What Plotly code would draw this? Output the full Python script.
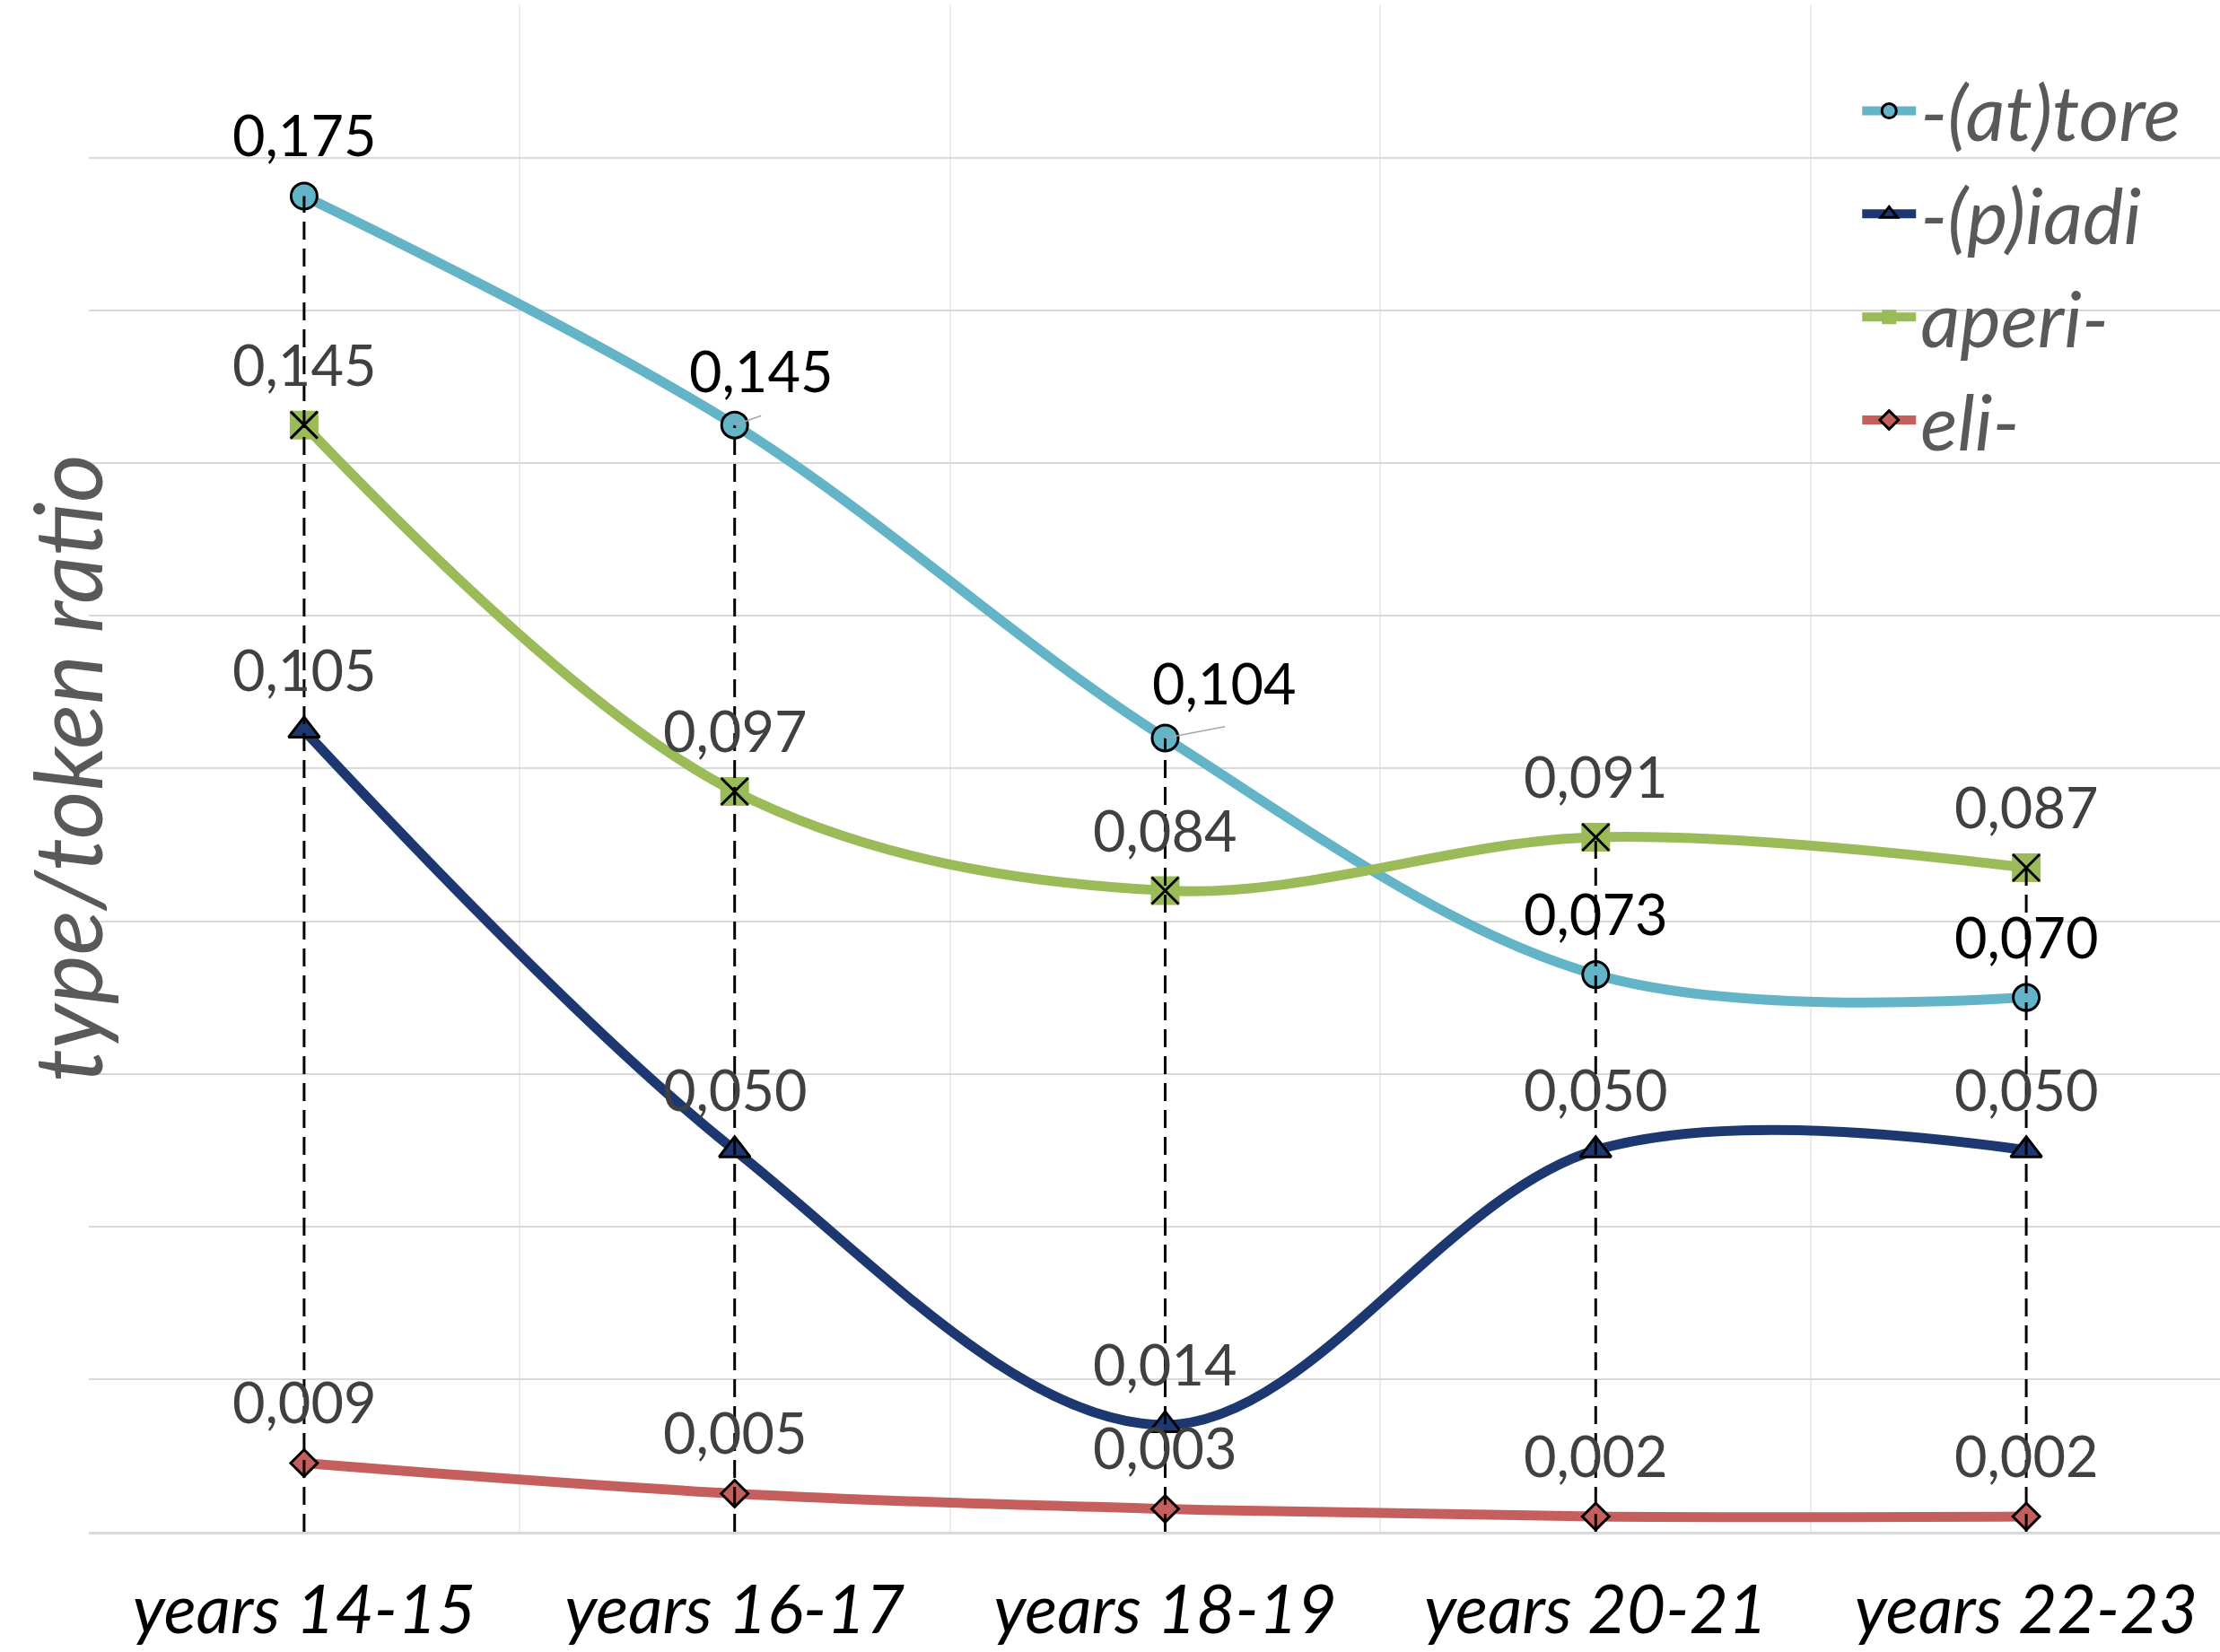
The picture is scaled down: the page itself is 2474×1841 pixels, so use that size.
import plotly.graph_objects as go

# ---------------- data ----------------
categories = ["years 14-15", "years 16-17", "years 18-19", "years 20-21", "years 22-23"]
series_names = ["-(at)tore", "-(p)iadi", "aperi-", "eli-"]
atore = [0.175, 0.145, 0.104, 0.073, 0.070]
piadi = [0.105, 0.050, 0.014, 0.050, 0.050]
aperi = [0.145, 0.097, 0.084, 0.091, 0.087]
eli = [0.009, 0.005, 0.003, 0.002, 0.002]

# ---------------- styles ----------------
colors = ["#64B4C8", "#1D3770", "#9BBB59", "#C55F5E"]
symbols = ["circle", "triangle-up", "square", "diamond"]
msizes = [29, 30, 32, 23]
mlines = [3, 3, 0, 3]
label_colors = ["#000000", "#404040", "#404040", "#404040"]
FONT = "Lato"

all_series = [atore, piadi, aperi, eli]

fig = go.Figure()

for name, vals, col, sym, ms, ml in zip(series_names, all_series, colors, symbols, msizes, mlines):
    fig.add_trace(go.Scatter(
        x=categories, y=vals, name=name, mode="lines+markers",
        line=dict(color=col, width=11, shape="spline", smoothing=1.0),
        marker=dict(symbol=sym, size=ms, color=col,
                    line=dict(color="black", width=ml)),
    ))

# black X drawn over the green square markers of "aperi-"
fig.add_trace(go.Scatter(
    x=categories, y=aperi, mode="markers", showlegend=False, hoverinfo="skip",
    marker=dict(symbol="x-thin", size=30, color="black",
                line=dict(color="black", width=3)),
))

# dashed drop lines from the axis up to the highest point of each category
drop_x, drop_y = [], []
for i, c in enumerate(categories):
    top = max(s[i] for s in all_series)
    drop_x += [c, c, None]
    drop_y += [0, top, None]
fig.add_trace(go.Scatter(
    x=drop_x, y=drop_y, mode="lines", showlegend=False, hoverinfo="skip",
    line=dict(color="black", width=3, dash="20px,10px"),
))

# data labels
special_shift = {(0, 1): (29, 0), (0, 2): (66, 0)}
leaders = {(0, 1): (31, -11), (0, 2): (68, -13)}
for si, vals in enumerate(all_series):
    for i, v in enumerate(vals):
        dx, dy = special_shift.get((si, i), (0, 0))
        ys = 22 if (si, i) in special_shift else 29
        fig.add_annotation(
            x=categories[i], y=v, xref="x", yref="y",
            text=f"{v:.3f}".replace(".", ","), showarrow=False,
            xanchor="center", yanchor="bottom", xshift=dx, yshift=ys + dy,
            font=dict(family=FONT, size=63, color=label_colors[si]),
        )
        if (si, i) in leaders:
            ax, ay = leaders[(si, i)]
            fig.add_annotation(
                x=categories[i], y=v, xref="x", yref="y", text="",
                showarrow=True, arrowhead=0, arrowwidth=1.5, arrowcolor="#a6a6a6",
                ax=ax, ay=ay, standoff=0,
            )

# y-axis title
fig.add_annotation(
    xref="paper", yref="paper", x=-0.011, y=0.5, text="type/token ratio",
    textangle=-90, showarrow=False, xanchor="center", yanchor="middle",
    font=dict(family=FONT, size=104, color="#595959", style="italic"),
)

fig.update_layout(
    width=2474, height=1841,
    margin=dict(l=99, r=0, t=5, b=134, autoexpand=False),
    paper_bgcolor="white", plot_bgcolor="white",
    showlegend=True,
    legend=dict(
        x=0.83, y=0.967, xanchor="left", yanchor="top",
        font=dict(family=FONT, size=86, color="#595959", style="italic"),
        bgcolor="rgba(0,0,0,0)", itemwidth=60,
    ),
    xaxis=dict(
        type="category", categoryorder="array", categoryarray=categories,
        tickson="boundaries", showgrid=True, gridcolor="#ececec", gridwidth=2,
        range=[-0.5, 4.45], showline=True, linecolor="#d9d9d9", linewidth=3,
        ticks="", zeroline=False, ticklabelstandoff=20, automargin=False,
        tickfont=dict(family=FONT, size=75, color="black", style="italic"),
    ),
    yaxis=dict(
        range=[0, 0.2001], dtick=0.02, tick0=0, showgrid=True,
        gridcolor="#d9d9d9", gridwidth=2, showticklabels=False,
        zeroline=False, ticks="", automargin=False,
    ),
)

fig.write_html(
    "out.html",
    config={"displayModeBar": False},
    post_script="document.body.style.margin='0';document.body.style.overflow='hidden';",
)
